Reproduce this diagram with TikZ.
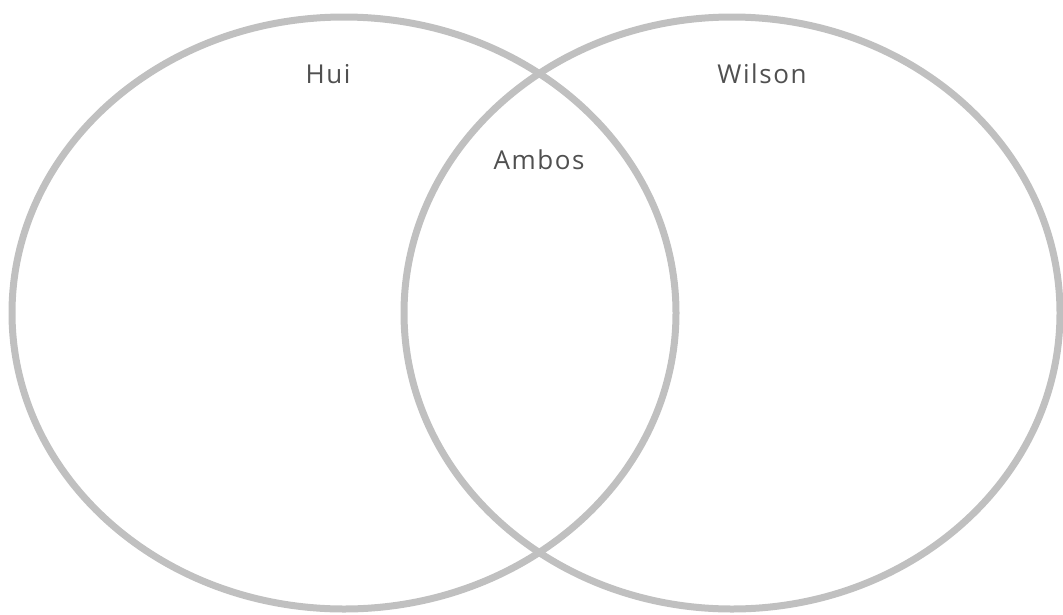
\documentclass[tikz,border=0pt]{standalone}
\usepackage{fontspec}
\setmainfont{Open Sans}[LetterSpace=6]
\definecolor{ring}{HTML}{C0C0C0}
\definecolor{txt}{HTML}{505050}
\begin{document}
\begin{tikzpicture}[x=1pt,y=-1pt,
  ringstyle/.style={draw=ring,line width=7pt},
  lbl/.style={text=txt,font=\fontsize{26}{30}\selectfont,inner sep=0pt}]
\useasboundingbox (0,0) rectangle (1063,614);
\draw[ringstyle] (344,313) ellipse [x radius=332, y radius=296];
\draw[ringstyle] (732,313) ellipse [x radius=328, y radius=296];
\node[lbl] (hui) at (328,74) {Hui};
\node[lbl] (wilson) at (762,74) {Wilson};
\node[lbl] (ambos) at (539,160) {Ambos};
\end{tikzpicture}
\end{document}
